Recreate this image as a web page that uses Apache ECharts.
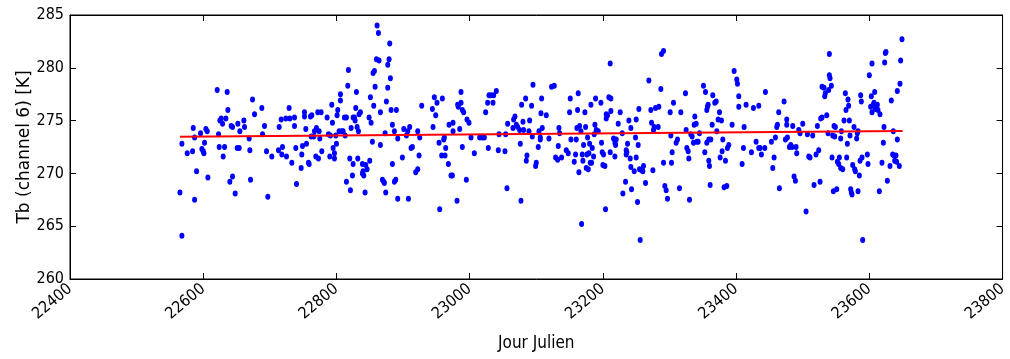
<!DOCTYPE html>
<html>
<head>
<meta charset="utf-8">
<script src="https://cdn.jsdelivr.net/npm/echarts@6/dist/echarts.min.js"></script>
<style>html,body{margin:0;padding:0;background:#fff;}#chart{width:1010px;height:359px;}</style>
</head>
<body>
<div id="chart"></div>
<script>
// Tick settings
var xTicks = [22400, 22600, 22800, 23000, 23200, 23400, 23600, 23800];
var yTicks = [260, 265, 270, 275, 280, 285];
var xTitle = 'Jour Julien';
var yTitle = 'Tb (channel 6) [K]';

// Observations [julian day, Tb]
var points = [
[22568,264.1],[22565,268.2],[22568,272.8],[22576,271.9],[22584,272.1],[22585,274.3],[22587,273.4],[22590,270.2],[22587,267.5],[22596,273.8],[22598,272.3],[22600,272.1],[22601,271.9],[22602,272.9],[22604,274.2],[22606,274.0],[22607,269.6],[22621,277.9],[22623,273.7],[22624,272.5],[22625,275.0],[22627,275.2],[22629,274.7],[22630,271.6],[22632,272.5],[22634,275.2],[22636,277.7],[22637,276.0],[22640,269.2],[22642,274.5],[22644,274.4],[22644,269.7],[22648,268.1],[22651,272.4],[22654,272.4],[22652,274.7],[22655,274.0],[22661,275.0],[22662,274.4],[22669,273.3],[22670,272.2],[22671,269.4],[22674,277.0],[22677,275.6],[22688,276.2],[22689,273.7],[22692,274.5],
[22695,272.1],[22697,267.8],[22703,271.6],[22713,272.2],[22714,274.4],[22717,275.1],[22719,272.5],[22718,271.8],[22724,275.2],[22725,271.6],[22729,276.2],[22730,275.2],[22733,271.0],[22737,275.3],[22737,274.5],[22739,272.4],[22740,269.0],[22747,270.5],[22748,271.8],[22749,272.6],[22752,275.8],[22752,275.4],[22754,274.2],[22755,272.8],[22758,271.0],[22759,270.9],[22761,275.4],[22763,275.5],[22762,273.5],[22766,273.5],[22767,274.0],[22769,271.6],[22770,274.3],[22772,275.8],[22773,271.4],[22774,274.0],[22775,273.3],[22777,275.8],[22778,272.1],[22786,275.3],[22788,273.7],[22790,271.6],[22791,273.6],[22793,276.5],[22794,274.8],[22795,272.4],[22797,271.9],[22797,271.4],[22799,273.6],[22800,272.8],[22801,275.5],[22802,276.0],[22804,274.0],[22806,276.9],[22806,277.5],[22808,274.0],[22810,274.0],[22812,275.3],[22813,273.6],[22815,275.3],[22815,269.2],[22817,278.3],[22818,279.8],[22820,271.4],[22821,268.4],[22822,274.3],[22824,269.8],[22825,270.9],[22825,275.3],
[22830,277.7],[22829,276.2],[22827,275.3],[22828,275.0],[22831,274.4],[22833,274.0],[22832,271.4],[22834,275.6],[22836,275.8],[22839,270.9],[22839,270.0],[22840,270.2],[22841,269.8],[22843,268.2],[22844,270.8],[22846,270.4],[22849,275.3],[22850,271.2],[22851,277.2],[22852,274.8],[22854,273.0],[22855,279.5],[22856,276.4],[22857,279.7],[22858,278.2],[22860,280.8],[22861,284.0],[22863,283.3],[22864,280.7],[22866,275.8],[22866,272.7],[22869,269.4],[22871,269.2],[22872,269.1],[22873,273.8],[22874,268.2],[22875,276.8],[22877,278.1],[22877,280.3],[22879,280.8],[22880,282.3],[22881,279.0],[22882,276.0],[22884,274.6],[22884,270.9],[22887,274.0],[22887,269.2],[22889,269.4],[22890,276.0],[22892,273.3],[22892,267.6],[22899,271.5],[22901,274.2],[22905,273.6],[22907,274.0],[22908,267.6],[22910,274.4],[22912,272.4],[22914,272.5],[22919,270.1],[22922,270.4],[22922,274.0],[22924,271.7],[22925,273.4],[22928,276.4],[22944,276.1],[22945,274.4],[22947,277.2],[22949,275.5],[22951,276.7],[22954,272.9],[22955,266.6],[22958,271.7],[22959,277.1],[22961,273.2],
[22962,273.4],[22964,272.4],[22963,271.7],[22968,270.9],[22969,274.6],[22972,269.8],[22974,269.8],[22975,274.8],[22975,274.0],[22981,267.4],[22982,276.5],[22983,276.3],[22985,274.2],[22987,277.7],[22987,276.7],[22989,276.0],[22989,272.5],[22991,275.8],[22995,269.4],[22996,275.1],[22999,274.8],[23002,273.4],[23007,271.9],[23015,273.4],[23019,273.4],[23022,273.4],[23024,275.8],[23027,276.7],[23028,272.4],[23029,277.4],[23032,277.4],[23035,276.7],[23036,277.4],[23040,277.8],[23043,272.2],[23044,273.7],[23053,272.1],[23054,273.7],[23056,268.6],[23057,274.7],[23065,274.3],[23066,275.1],[23068,275.4],[23070,274.6],[23072,274.4],[23075,274.1],[23076,272.8],[23077,267.4],[23078,276.5],[23080,274.9],[23081,274.1],[23084,277.1],[23085,271.2],[23086,271.7],[23089,274.0],[23090,275.0],[23093,276.4],[23095,278.4],[23094,273.5],
[23100,271.0],[23099,270.7],[23103,272.5],[23104,274.0],[23106,273.4],[23106,273.2],[23107,275.7],[23108,277.1],[23109,274.3],[23115,275.5],[23119,273.3],[23123,278.2],[23127,278.3],[23129,271.5],[23132,271.3],[23134,274.3],[23135,273.8],[23133,272.6],[23138,271.5],[23145,272.2],[23148,271.9],[23150,275.8],[23151,277.1],[23152,273.2],[23157,271.1],[23159,271.8],[23160,273.2],[23161,274.3],[23162,276.0],[23163,277.6],[23164,270.1],[23165,274.5],[23167,274.0],[23168,265.2],[23169,271.8],[23170,271.2],[23171,272.7],[23173,275.8],[23174,274.4],[23175,270.5],[23176,271.8],[23177,273.4],[23178,270.4],[23179,271.9],[23180,272.8],[23181,271.0],[23182,276.5],[23183,271.0],[23184,272.4],[23186,271.6],[23187,273.7],[23188,274.6],[23189,277.1],[23190,274.1],[23193,274.0],[23197,276.7],[23198,272.9],[23199,272.0],[23200,270.8],[23201,271.8],[23203,270.7],[23204,266.6],[23205,275.2],[23205,275.6],[23207,275.5],[23209,277.2],[23212,277.1],[23211,280.4],[23211,272.0],[23212,275.9],[23216,273.3],[23218,272.9],[23219,272.7],[23218,271.6],[23220,273.2],[23223,274.7],[23226,275.8],[23229,273.8],[23230,268.1],
[23237,272.8],[23235,272.2],[23235,271.8],[23234,269.2],[23236,272.0],[23239,275.0],[23241,271.4],[23242,274.3],[23242,270.6],[23243,268.5],[23247,270.2],[23249,273.4],[23250,275.1],[23250,271.5],[23252,267.3],[23253,272.7],[23254,276.1],[23255,270.4],[23256,263.7],[23258,270.3],[23260,270.2],[23261,270.7],[23264,269.1],[23269,278.8],[23272,276.0],[23273,274.8],[23275,270.3],[23276,274.1],[23277,274.4],[23279,276.2],[23283,274.4],[23284,276.3],[23287,278.0],[23288,281.3],[23291,281.6],[23291,271.0],[23293,268.8],[23295,268.4],[23297,267.6],[23301,275.8],[23302,273.6],[23303,271.0],[23304,272.0],[23306,276.7],[23310,272.9],[23312,273.2],[23315,268.6],[23317,275.8],[23324,277.6],[23325,274.1],[23326,272.4],[23328,272.1],[23329,271.4],[23330,267.5],[23332,273.7],[23334,273.5],[23336,272.9],[23337,274.6],[23338,275.4],[23340,274.7],[23341,273.0],[23343,273.0],[23345,273.8],[23351,278.3],[23353,272.0],[23354,277.7],[23356,276.0],[23357,276.3],[23358,276.5],[23359,271.2],[23356,272.9],[23359,273.2],[23360,270.7],[23361,268.9],[23362,273.2],[23364,274.6],[23365,277.4],
[23368,276.7],[23370,276.8],[23371,274.0],[23373,275.1],[23375,275.8],[23376,271.5],[23378,275.0],[23379,272.1],[23380,273.2],[23382,268.7],[23384,271.2],[23386,268.8],[23387,272.4],[23389,272.7],[23394,274.6],[23397,279.7],[23401,278.9],[23402,278.5],[23404,277.3],[23404,276.3],[23409,270.9],[23411,272.4],[23412,274.4],[23415,276.5],[23423,272.0],[23426,276.2],[23430,273.0],[23434,272.4],[23434,276.4],[23436,272.4],[23438,271.8],[23443,272.4],[23444,277.7],[23453,273.0],[23455,270.5],[23457,271.5],[23459,273.4],[23461,274.4],[23462,274.6],[23464,275.8],[23465,268.6],[23472,276.8],[23474,273.2],[23476,275.1],[23476,274.6],[23477,273.4],[23480,272.5],[23482,272.7],[23484,272.5],[23485,274.5],[23487,269.7],[23489,269.3],[23490,272.5],[23491,271.9],[23494,274.1],[23496,273.8],[23500,274.7],
[23505,266.4],[23507,273.7],[23509,271.6],[23511,271.5],[23515,273.6],[23517,268.9],[23520,271.8],[23522,274.5],[23524,272.2],[23526,269.2],[23527,275.2],[23529,275.3],[23529,278.2],[23532,278.1],[23533,277.3],[23534,277.6],[23536,275.5],[23538,273.8],[23539,277.9],[23540,281.3],[23540,279.3],[23541,279.0],[23543,278.3],[23545,273.6],[23544,271.5],[23546,268.3],[23547,274.5],[23548,273.5],[23549,274.4],[23551,268.5],[23552,271.1],[23554,270.9],[23555,271.5],[23557,270.5],[23558,274.0],[23557,273.3],[23560,270.4],[23562,275.0],[23564,277.6],[23565,276.0],[23566,271.5],[23567,272.8],[23568,277.0],[23569,276.4],[23570,275.0],[23571,273.6],[23572,268.5],[23573,268.2],[23574,268.0],[23575,270.8],[23577,274.4],[23578,270.4],[23579,270.2],[23581,273.3],[23582,273.8],[23583,274.0],[23583,268.3],[23585,269.8],[23586,271.2],[23587,277.4],[23588,276.8],[23589,271.5],[23590,263.7],[23597,271.8],[23598,270.9],[23600,279.3],[23602,276.3],[23603,277.3],[23604,280.4],[23604,275.8],[23606,276.5],[23607,276.7],[23608,277.7],[23609,276.1],[23610,276.3],[23612,276.5],[23613,276.0],[23615,268.3],[23616,275.6],[23619,271.0],[23621,272.9],[23622,274.4],[23623,280.5],[23624,281.4],[23625,281.5],[23627,269.3],[23631,270.7],[23633,276.9],[23635,271.8],[23637,271.7],[23636,274.0],[23638,271.2],[23640,271.7],[23641,271.1],[23642,273.2],[23642,277.8],[23645,270.7],[23646,278.5],[23647,280.7],[23649,282.7]
];

// Linear trend endpoints
var trendDays = [22565, 23650];
var trendTb = [273.48, 274.02];

var chart = echarts.init(document.getElementById('chart'), null, {renderer: 'canvas'});
var condFont = '"DejaVu Sans Condensed", "Liberation Sans Narrow", "DejaVu Sans", sans-serif';
var font = '"DejaVu Sans", sans-serif';
var axisCommon = {
  type: 'value',
  axisLine: {show: true, lineStyle: {color: '#000', width: 1}},
  axisTick: {show: true, inside: true, length: 6, lineStyle: {color: '#000'}},
  splitLine: {show: false}
};
chart.setOption({
  animation: false,
  backgroundColor: '#fff',
  grid: {left: 70, right: 5, top: 15, bottom: 80, show: true, borderColor: '#000', borderWidth: 1, containLabel: false},
  xAxis: [
    Object.assign({}, axisCommon, {
      position: 'bottom', min: xTicks[0], max: xTicks[xTicks.length - 1], interval: 200,
      name: xTitle, nameLocation: 'middle', nameGap: 56, nameMoveOverlap: false,
      nameTextStyle: {fontFamily: condFont, fontSize: 17, color: '#000'},
      axisLabel: {rotate: 40, margin: 8, fontFamily: condFont, fontSize: 16, color: '#000',
        formatter: function (v) { return String(v); }}
    }),
    Object.assign({}, axisCommon, {
      position: 'top', min: xTicks[0], max: xTicks[xTicks.length - 1], interval: 200,
      axisLabel: {show: false}
    })
  ],
  yAxis: [
    Object.assign({}, axisCommon, {
      position: 'left', min: yTicks[0], max: yTicks[yTicks.length - 1], interval: 5,
      name: yTitle, nameLocation: 'middle', nameGap: 37, nameRotate: 90, nameMoveOverlap: false,
      nameTextStyle: {fontFamily: font, fontSize: 17, color: '#000'},
      axisLabel: {margin: 6, fontFamily: condFont, fontSize: 16, color: '#000',
        formatter: function (v) { return String(v); }}
    }),
    Object.assign({}, axisCommon, {
      position: 'right', min: yTicks[0], max: yTicks[yTicks.length - 1], interval: 5,
      axisLabel: {show: false}
    })
  ],
  series: [
    {
      type: 'scatter', xAxisIndex: 0, yAxisIndex: 0,
      data: points, symbol: 'circle', symbolSize: [5, 6],
      itemStyle: {color: '#0000ff', opacity: 1}
    },
    {
      type: 'line', xAxisIndex: 0, yAxisIndex: 0,
      data: trendDays.map(function (d, i) { return [d, trendTb[i]]; }),
      symbol: 'none', lineStyle: {color: '#ff0000', width: 2}, z: 3
    }
  ]
});
</script>
</body>
</html>
